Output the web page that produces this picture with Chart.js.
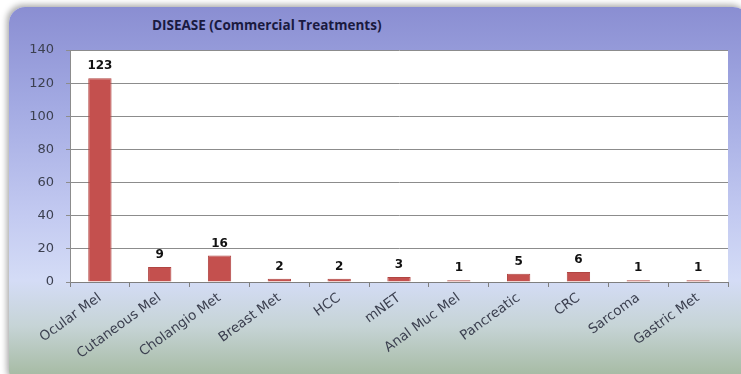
<!DOCTYPE html>
<html>
<head>
<meta charset="utf-8">
<script src="https://cdn.jsdelivr.net/npm/chart.js@4"></script>
<style>
  html, body { margin: 0; padding: 0; background: #fff; }
  #wrap { position: relative; width: 741px; height: 374px; overflow: hidden; }
  #panel {
    position: absolute; left: 9px; top: 7px; width: 740px; height: 380px;
    border-radius: 16px;
    background: linear-gradient(to bottom, #8a8ed2 0%, #a2a9e2 25%, #c3caf1 55%, #d4dcf6 72%, #c6d4d6 84%, #9fb598 100%);
    box-shadow: -2px -2px 6px rgba(0,0,0,0.35);
  }
  #title {
    position: absolute; left: 152px; top: 16px;
    font: bold 13.5px "Open Sans", sans-serif; color: #1a1a40;
  }
  canvas { position: absolute; left: 0; top: 0; }
</style>
</head>
<body>
<div id="wrap">
  <div id="panel"></div>
  <div id="title">DISEASE (Commercial Treatments)</div>
  <canvas id="chart" width="741" height="374"></canvas>
</div>
<script>
// data
const categories = ['Ocular Mel', 'Cutaneous Mel', 'Cholangio Met', 'Breast Met', 'HCC', 'mNET',
                    'Anal Muc Mel', 'Pancreatic', 'CRC', 'Sarcoma', 'Gastric Met'];
const counts = [123, 9, 16, 2, 2, 3, 1, 5, 6, 1, 1];
const yTicks = [0, 20, 40, 60, 80, 100, 120, 140];

// white plot area
const plotBg = {
  id: 'plotBg',
  beforeDraw(chart) {
    const a = chart.chartArea, ctx = chart.ctx;
    ctx.save();
    ctx.fillStyle = '#ffffff';
    ctx.fillRect(a.left, a.top, a.right - a.left, a.bottom - a.top);
    ctx.restore();
  }
};

// value labels above bars
const valueLabels = {
  id: 'valueLabels',
  afterDatasetsDraw(chart) {
    const ctx = chart.ctx;
    const meta = chart.getDatasetMeta(0);
    ctx.save();
    ctx.font = 'bold 12px "DejaVu Sans", sans-serif';
    ctx.fillStyle = '#111';
    ctx.textAlign = 'center';
    ctx.textBaseline = 'bottom';
    meta.data.forEach((bar, i) => {
      ctx.fillText(String(counts[i]), bar.x, bar.y - 6);
    });
    ctx.restore();
  }
};

new Chart(document.getElementById('chart'), {
  type: 'bar',
  data: {
    labels: categories,
    datasets: [{
      data: counts,
      backgroundColor: '#c4504e',
      borderColor: '#b04542',
      borderWidth: 1,
      categoryPercentage: 1,
      barPercentage: 0.39
    }]
  },
  options: {
    responsive: false,
    animation: false,
    events: [],
    layout: { padding: { top: 50, left: 10, right: 13, bottom: 8 } },
    plugins: { legend: { display: false }, tooltip: { enabled: false }, title: { display: false } },
    scales: {
      x: {
        offset: true,
        afterFit(s) { s.height = 84; },
        grid: { offset: true, drawOnChartArea: false, tickLength: 5, color: '#7f7f7f' },
        border: { color: '#7f7f7f' },
        ticks: {
          maxRotation: 36, minRotation: 36, autoSkip: false, padding: 3,
          color: '#3c4050', font: { family: '"DejaVu Sans", sans-serif', size: 13.5 }
        }
      },
      y: {
        min: 0, max: 140,
        afterFit(s) { s.width = 60; },
        afterBuildTicks(s) { s.ticks = yTicks.map(v => ({ value: v })); },
        grid: { color: '#8c8c8c', tickLength: 4 },
        border: { color: '#8c8c8c' },
        ticks: {
          color: '#3c4050', padding: 12,
          font: { family: '"DejaVu Sans", sans-serif', size: 13 }
        }
      }
    }
  },
  plugins: [plotBg, valueLabels]
});
</script>
</body>
</html>
